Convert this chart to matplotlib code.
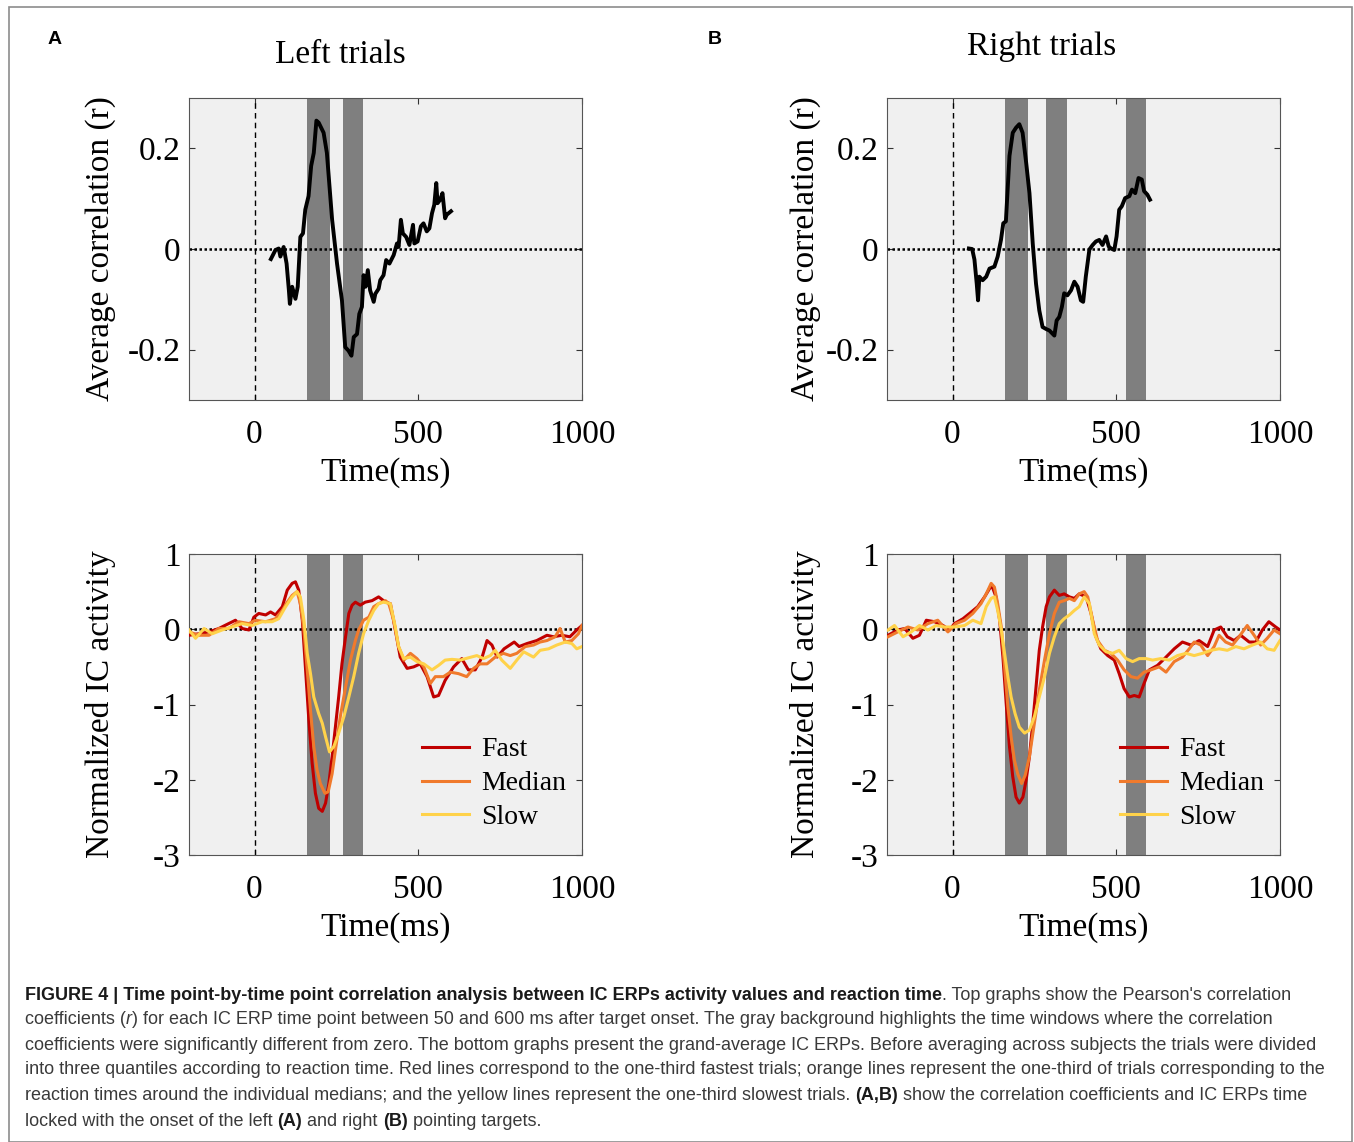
import matplotlib
matplotlib.use("Agg")
import matplotlib.pyplot as plt
from matplotlib.patches import Rectangle

plt.rcParams['font.family'] = ['Liberation Serif', 'DejaVu Serif']
plt.rcParams['axes.unicode_minus'] = False

W, H = 1354, 1142

# ---- data ----
# top row: average correlation (r), 50-600 ms
left_r_t = [50, 64, 74, 79, 89, 98, 105, 108, 115, 125,
            132, 140, 148, 155, 165, 173, 181, 189, 196, 211,
            221, 237, 252, 267, 277, 287, 296, 303, 313, 320,
            328, 333, 339, 346, 353, 364, 369, 379, 384, 394,
            402, 412, 425, 435, 440, 447, 453, 463, 473, 484,
            488, 498, 508, 516, 526, 534, 542, 549, 555, 559,
            567, 574, 582, 587, 600]
left_r = [-0.020, -0.002, 0.001, -0.015, 0.004, -0.029, -0.082, -0.109, -0.075, -0.099,
          -0.075, 0.024, 0.031, 0.078, 0.105, 0.165, 0.191, 0.255, 0.251, 0.231,
          0.191, 0.058, -0.029, -0.102, -0.195, -0.202, -0.212, -0.175, -0.169, -0.129,
          -0.115, -0.052, -0.075, -0.042, -0.082, -0.105, -0.089, -0.079, -0.062, -0.052,
          -0.022, -0.029, -0.012, 0.011, 0.004, 0.058, 0.031, 0.024, 0.008, 0.048,
          0.011, 0.015, 0.045, 0.051, 0.035, 0.041, 0.071, 0.088, 0.131, 0.091,
          0.098, 0.111, 0.061, 0.068, 0.075]

right_r_t = [50, 60, 67, 74, 78, 82, 92, 103, 113, 128,
             138, 148, 155, 163, 174, 184, 194, 204, 214, 225,
             235, 245, 255, 265, 275, 286, 296, 311, 318, 326,
             334, 341, 351, 362, 372, 382, 392, 399, 407, 418,
             428, 438, 448, 458, 469, 477, 484, 494, 501, 509,
             517, 527, 540, 548, 558, 568, 578, 585, 595, 603]
right_r = [0.001, 0.000, -0.021, -0.069, -0.102, -0.055, -0.062, -0.055, -0.039, -0.035,
           -0.015, 0.018, 0.051, 0.055, 0.185, 0.231, 0.241, 0.248, 0.231, 0.171,
           0.111, 0.011, -0.069, -0.122, -0.155, -0.159, -0.162, -0.172, -0.142, -0.135,
           -0.115, -0.088, -0.092, -0.082, -0.065, -0.075, -0.102, -0.105, -0.055, -0.001,
           0.008, 0.015, 0.018, 0.008, 0.025, 0.005, 0.001, -0.002, 0.025, 0.078,
           0.085, 0.101, 0.105, 0.118, 0.111, 0.141, 0.138, 0.115, 0.108, 0.098]

# significant windows (ms)
left_windows = [(160, 230), (270, 330)]
right_windows = [(160, 230), (285, 350), (530, 590)]

# bottom row: normalized IC activity, left trials
left_fast_t = [-200, -170, -139, -109, -79, -58, -38, -17, -2, 13,
               34, 49, 64, 85, 100, 115, 125, 135, 146, 156,
               166, 176, 186, 196, 207, 217, 227, 237, 247, 257,
               267, 278, 288, 298, 308, 323, 338, 359, 379, 400,
               415, 430, 445, 466, 486, 506, 527, 547, 562, 582,
               608, 633, 653, 674, 695, 710, 725, 741, 762, 793,
               808, 832, 862, 893, 913, 938, 963, 984, 1000]
left_fast = [-0.08, -0.06, -0.035, 0.01, 0.075, 0.12, 0.01, -0.01, 0.16, 0.21,
             0.19, 0.23, 0.19, 0.30, 0.52, 0.61, 0.63, 0.52, 0.12, -0.54,
             -1.21, -1.78, -2.18, -2.38, -2.42, -2.31, -2.05, -1.69, -1.30, -0.90,
             -0.46, -0.10, 0.21, 0.32, 0.36, 0.32, 0.36, 0.38, 0.43, 0.36,
             0.34, -0.01, -0.37, -0.52, -0.50, -0.46, -0.63, -0.90, -0.88, -0.68,
             -0.50, -0.39, -0.54, -0.54, -0.37, -0.15, -0.21, -0.37, -0.26, -0.17,
             -0.23, -0.19, -0.15, -0.08, -0.10, -0.08, -0.10, -0.01, 0.05]

left_med_t = [-200, -170, -139, -109, -79, -48, -17, 3, 34, 64,
              85, 100, 115, 130, 140, 151, 161, 171, 181, 191,
              201, 215, 225, 237, 247, 262, 278, 293, 308, 318,
              333, 349, 364, 379, 400, 410, 425, 440, 456, 476,
              496, 517, 537, 552, 577, 598, 623, 648, 669, 689,
              710, 735, 760, 781, 801, 827, 852, 872, 893, 918,
              933, 949, 969, 989, 1000]
left_med = [-0.035, -0.08, -0.08, 0.01, 0.01, 0.10, 0.075, 0.12, 0.10, 0.14,
            0.25, 0.36, 0.45, 0.50, 0.34, -0.01, -0.54, -1.08, -1.56, -1.87,
            -2.05, -2.18, -2.16, -1.92, -1.61, -1.16, -0.77, -0.41, -0.15, -0.01,
            0.12, 0.16, 0.30, 0.34, 0.38, 0.34, 0.12, -0.23, -0.41, -0.32,
            -0.39, -0.50, -0.72, -0.63, -0.63, -0.57, -0.59, -0.63, -0.52, -0.46,
            -0.46, -0.37, -0.32, -0.35, -0.32, -0.23, -0.21, -0.17, -0.15, -0.10,
            0.01, -0.17, -0.15, -0.06, 0.05]

left_slow_t = [-200, -180, -154, -129, -99, -69, -38, -7, 23, 54,
               74, 95, 115, 130, 140, 151, 161, 171, 181, 196,
               207, 217, 229, 242, 257, 273, 288, 303, 318, 333,
               349, 364, 379, 394, 415, 430, 440, 456, 476, 496,
               517, 542, 562, 582, 603, 628, 653, 679, 699, 720,
               735, 755, 781, 801, 822, 852, 872, 898, 923, 949,
               969, 984, 1000]
left_slow = [-0.01, -0.12, 0.01, -0.06, -0.01, 0.03, 0.075, 0.05, 0.10, 0.10,
             0.14, 0.30, 0.43, 0.50, 0.43, 0.12, -0.32, -0.59, -0.90, -1.12,
             -1.25, -1.43, -1.63, -1.56, -1.38, -1.16, -0.90, -0.63, -0.32, -0.06,
             0.12, 0.25, 0.34, 0.36, 0.34, 0.03, -0.23, -0.39, -0.37, -0.43,
             -0.46, -0.54, -0.48, -0.41, -0.40, -0.41, -0.38, -0.35, -0.39, -0.35,
             -0.28, -0.41, -0.52, -0.41, -0.30, -0.37, -0.28, -0.26, -0.21, -0.17,
             -0.19, -0.26, -0.23]

# bottom row: right trials
right_fast_t = [-197, -167, -146, -121, -101, -80, -55, -29, -9, 6,
                32, 52, 77, 98, 113, 120, 133, 144, 154, 164,
                174, 184, 194, 204, 215, 225, 235, 245, 255, 265,
                275, 286, 296, 311, 326, 341, 357, 372, 387, 408,
                423, 438, 453, 474, 494, 509, 524, 540, 555, 570,
                585, 601, 626, 652, 677, 702, 728, 753, 779, 799,
                819, 839, 860, 880, 906, 926, 946, 966, 987, 1000]
right_fast = [-0.08, -0.01, 0.01, -0.12, -0.08, 0.12, 0.10, 0.05, -0.01, 0.075,
              0.14, 0.21, 0.30, 0.43, 0.54, 0.58, 0.43, 0.12, -0.37, -0.99,
              -1.56, -1.96, -2.23, -2.31, -2.23, -2.00, -1.69, -1.25, -0.77, -0.28,
              0.03, 0.30, 0.43, 0.52, 0.45, 0.47, 0.43, 0.41, 0.47, 0.43,
              0.21, -0.10, -0.26, -0.35, -0.41, -0.59, -0.79, -0.90, -0.88, -0.90,
              -0.72, -0.54, -0.48, -0.37, -0.26, -0.17, -0.21, -0.15, -0.23, -0.01,
              0.03, -0.10, -0.15, -0.08, -0.17, -0.17, -0.01, 0.10, 0.03, -0.01]

right_med_t = [-197, -167, -136, -106, -75, -45, -14, 11, 37, 62,
               87, 103, 118, 128, 138, 149, 159, 169, 179, 189,
               199, 211, 222, 235, 250, 265, 281, 296, 311, 326,
               341, 357, 372, 387, 402, 413, 428, 443, 464, 484,
               504, 524, 545, 565, 585, 606, 631, 652, 677, 702,
               723, 738, 758, 779, 799, 814, 834, 855, 875, 900,
               921, 941, 961, 982, 1000]
right_med = [-0.10, -0.035, 0.03, -0.01, 0.075, 0.12, -0.035, 0.075, 0.12, 0.21,
             0.34, 0.47, 0.61, 0.56, 0.34, 0.03, -0.50, -1.03, -1.43, -1.74,
             -1.92, -2.05, -1.94, -1.69, -1.25, -0.81, -0.41, -0.06, 0.21, 0.36,
             0.38, 0.41, 0.38, 0.47, 0.50, 0.43, 0.12, -0.15, -0.28, -0.32,
             -0.41, -0.54, -0.63, -0.65, -0.57, -0.54, -0.50, -0.57, -0.43, -0.37,
             -0.26, -0.17, -0.21, -0.35, -0.23, -0.08, -0.17, -0.21, -0.10, 0.05,
             -0.08, -0.21, -0.12, -0.01, -0.06]

right_slow_t = [-197, -177, -151, -126, -101, -75, -50, -24, 6, 37,
                62, 87, 103, 118, 128, 138, 149, 159, 169, 179,
                191, 204, 220, 235, 250, 265, 281, 296, 311, 326,
                341, 357, 372, 387, 402, 418, 433, 448, 469, 489,
                509, 530, 550, 570, 591, 611, 636, 662, 687, 713,
                738, 763, 789, 814, 839, 865, 890, 916, 941, 961,
                982, 1000]
right_slow = [-0.01, 0.05, -0.10, -0.035, 0.05, -0.01, 0.05, 0.03, 0.03, 0.05,
              0.12, 0.075, 0.30, 0.41, 0.43, 0.25, -0.01, -0.32, -0.63, -0.90,
              -1.12, -1.30, -1.38, -1.34, -1.16, -0.90, -0.63, -0.32, -0.10, 0.075,
              0.14, 0.19, 0.25, 0.30, 0.43, 0.34, -0.06, -0.21, -0.30, -0.32,
              -0.28, -0.39, -0.43, -0.39, -0.39, -0.41, -0.39, -0.41, -0.35, -0.32,
              -0.35, -0.32, -0.28, -0.26, -0.28, -0.23, -0.26, -0.21, -0.17, -0.26,
              -0.28, -0.15]

quantile_names = ['Fast', 'Median', 'Slow']
quantile_colors = ['#c00000', '#f07a2c', '#ffd24a']

x_ticks = [0, 500, 1000]
r_ticks = [-0.2, 0, 0.2]
r_ticklabels = ['-0.2', '0', '0.2']
ic_ticks = [-3, -2, -1, 0, 1]
ic_ticklabels = ['-3', '-2', '-1', '0', '1']

FS = 24


def px_box(left, top, right, bottom):
    return [left / W, 1 - bottom / H, (right - left) / W, (bottom - top) / H]


def style_axes(ax, windows, ylim, yticks, yticklabels, ylabel, label_x):
    ax.set_facecolor('#f0f0f0')
    for a, b in windows:
        ax.axvspan(a, b, color='#7f7f7f', lw=0, zorder=1)
    ax.axvline(0, color='black', ls=(0, (4, 3)), lw=1.0, zorder=2)
    ax.axhline(0, color='black', ls=(0, (1, 1)), lw=1.8, zorder=2)
    ax.set_xlim(-200, 1000)
    ax.set_ylim(*ylim)
    ax.set_xticks(x_ticks)
    ax.set_xticklabels([str(v) for v in x_ticks], fontsize=FS)
    ax.set_yticks(yticks)
    ax.set_yticklabels(yticklabels, fontsize=FS)
    ax.tick_params(direction='in', length=4, width=0.8, top=True, right=True,
                   colors='#333333', labelcolor='black')
    ax.tick_params(axis='x', pad=14)
    ax.tick_params(axis='y', pad=6)
    for s in ax.spines.values():
        s.set_color('#555555')
        s.set_linewidth(0.8)
    ax.set_xlabel('Time(ms)', fontsize=FS, labelpad=5)
    ax.set_ylabel(ylabel, fontsize=FS)
    ax.yaxis.set_label_coords(label_x, 0.5)


fig = plt.figure(figsize=(W / 100, H / 100), dpi=100)

# frame around the figure
fig.patches.append(Rectangle((9 / W, 0), 1343 / W, 1 - 7 / H, transform=fig.transFigure,
                             fill=False, edgecolor='#8c8c8c', lw=1.2))

ax_tl = fig.add_axes(px_box(189, 98, 582, 400))
ax_tr = fig.add_axes(px_box(887, 98, 1280, 400))
ax_bl = fig.add_axes(px_box(189, 554, 582, 855))
ax_br = fig.add_axes(px_box(887, 554, 1280, 855))

for ax, windows, t, r, lx in [(ax_tl, left_windows, left_r_t, left_r, -0.185),
                              (ax_tr, right_windows, right_r_t, right_r, -0.167)]:
    style_axes(ax, windows, (-0.3, 0.3), r_ticks, r_ticklabels, 'Average correlation (r)', lx)
    ax.plot(t, r, color='black', lw=2.8, zorder=3)

left_series = [(left_fast_t, left_fast), (left_med_t, left_med), (left_slow_t, left_slow)]
right_series = [(right_fast_t, right_fast), (right_med_t, right_med), (right_slow_t, right_slow)]

for ax, windows, series, lx in [(ax_bl, left_windows, left_series, -0.185),
                                (ax_br, right_windows, right_series, -0.167)]:
    style_axes(ax, windows, (-3, 1), ic_ticks, ic_ticklabels, 'Normalized IC activity', lx)
    for (t, v), name, c in zip(series, quantile_names, quantile_colors):
        ax.plot(t, v, color=c, lw=2.2, label=name, zorder=3)
    ax.legend(loc='lower right', bbox_to_anchor=(0.96, 0.083), frameon=False,
              fontsize=20, handlelength=1.7, handletextpad=0.45, labelspacing=0.3,
              borderpad=0, borderaxespad=0)

fig.text(340 / W, 1 - 55 / H, 'Left trials', fontsize=FS, ha='center', va='center')
fig.text(1042 / W, 1 - 47 / H, 'Right trials', fontsize=FS, ha='center', va='center')
fig.text(55 / W, 1 - 39 / H, 'A', fontsize=14, fontweight='bold', family='Liberation Sans',
         ha='center', va='center')
fig.text(715 / W, 1 - 39 / H, 'B', fontsize=14, fontweight='bold', family='Liberation Sans',
         ha='center', va='center')

# ---- caption ----
caption_lines = [
    [("FIGURE 4 | Time point-by-time point correlation analysis between IC ERPs activity values and reaction time", 'b'),
     (". Top graphs show the Pearson's correlation", 'n')],
    [("coefficients (", 'n'), ("r", 'i'),
     (") for each IC ERP time point between 50 and 600 ms after target onset. The gray background highlights the time windows where the correlation", 'n')],
    [("coefficients were significantly different from zero. The bottom graphs present the grand-average IC ERPs. Before averaging across subjects the trials were divided", 'n')],
    [("into three quantiles according to reaction time. Red lines correspond to the one-third fastest trials; orange lines represent the one-third of trials corresponding to the", 'n')],
    [("reaction times around the individual medians; and the yellow lines represent the one-third slowest trials.", 'n'),
     (" ", 'n'), ("(A,B)", 'b'), (" show the correlation coefficients and IC ERPs time", 'n')],
    [("locked with the onset of the left", 'n'), (" ", 'n'), ("(A)", 'b'), (" and right", 'n'), (" ", 'n'),
     ("(B)", 'b'), (" pointing targets.", 'n')],
]
caption_y = [995, 1020, 1045, 1070, 1096, 1121]
CAP_FS = 13.0

renderer = fig.canvas.get_renderer()


def text_width(s, weight, style):
    # measure with sentinels so leading/trailing spaces count
    t1 = fig.text(0, 0, '|' + s + '|', fontsize=CAP_FS, family='Liberation Sans',
                  fontweight=weight, style=style)
    t2 = fig.text(0, 0, '||', fontsize=CAP_FS, family='Liberation Sans',
                  fontweight=weight, style=style)
    w = t1.get_window_extent(renderer).width - t2.get_window_extent(renderer).width
    t1.remove()
    t2.remove()
    return w


for segs, y in zip(caption_lines, caption_y):
    x = 25.0
    for s, kind in segs:
        weight = 'bold' if kind == 'b' else 'normal'
        style = 'italic' if kind == 'i' else 'normal'
        color = '#1a1a1a' if kind == 'b' else '#3a3a3a'
        fig.text(x / W, 1 - y / H, s, fontsize=CAP_FS, family='Liberation Sans',
                 fontweight=weight, style=style, color=color, va='center', ha='left')
        x += text_width(s, weight, style)

fig.savefig('out.png', dpi=100)
